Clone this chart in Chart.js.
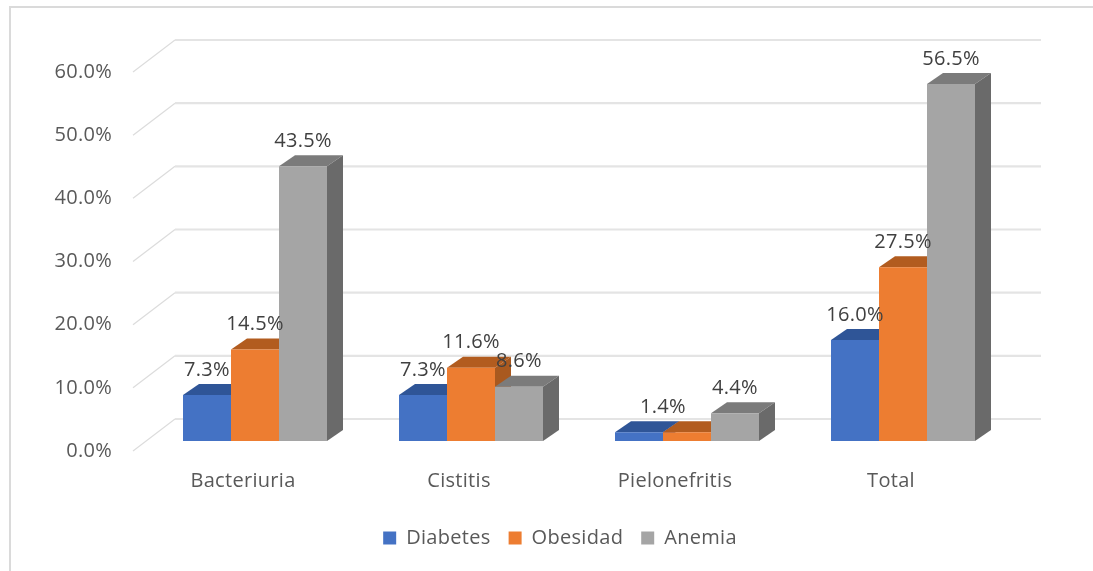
<!DOCTYPE html>
<html><head><meta charset="utf-8">
<style>html,body{margin:0;padding:0;background:#fff}#w{width:1093px;height:571px;position:relative}canvas{display:block;filter:blur(0.7px)}</style>
<script src="https://cdn.jsdelivr.net/npm/chart.js@4"></script></head>
<body><div id="w"><canvas id="c" width="1093" height="571"></canvas></div>
<script>
const categories=['Bacteriuria','Cistitis','Pielonefritis','Total'];
const diabetes=[7.3,7.3,1.4,16.0];
const obesidad=[14.5,11.6,1.4,27.5];
const anemia=[43.5,8.6,4.4,56.5];
const FONT='"Open Sans"';
const FS=20;
const styles=[
 {front:'#4472C4',top:'#2F5597',side:'#2F5597'},
 {front:'#ED7D31',top:'#B25C1F',side:'#A9591F'},
 {front:'#A5A5A5',top:'#7B7B7B',side:'#6A6A6A'}];
const DX=16,DY=11;
const threeD={id:'threeD',
 beforeUpdate(ch){ch.ctx.letterSpacing='0.3px';},
 afterLayout(ch){ch.legend.left+=37;ch.legend.right+=37;},
 beforeDraw(ch){const c=ch.ctx;c.save();c.strokeStyle='#DADADA';c.lineWidth=2;c.beginPath();c.moveTo(10,ch.height);c.lineTo(10,7);c.lineTo(ch.width,7);c.stroke();c.restore();},
 beforeDatasetsDraw(ch){
  const c=ch.ctx,y=ch.scales.y,a=ch.chartArea;c.save();
  y.ticks.forEach(t=>{const p=y.getPixelForValue(t.value);
   c.strokeStyle='#DCDCDC';c.lineWidth=1.2;c.beginPath();c.moveTo(a.left-14,p+10);c.lineTo(a.left+28,p-22);c.stroke();
   c.strokeStyle='#E4E4E4';c.lineWidth=2.2;c.beginPath();c.moveTo(a.left+28,p-22);c.lineTo(a.right+30,p-22);c.stroke();});
  categories.forEach((_,i)=>{ch.data.datasets.forEach((d,k)=>{
   const b=ch.getDatasetMeta(k).data[i],l=b.x-b.width/2,r=b.x+b.width/2,s=styles[k];
   c.fillStyle=s.top;c.beginPath();c.moveTo(l,b.y);c.lineTo(l+DX,b.y-DY);c.lineTo(r+DX,b.y-DY);c.lineTo(r,b.y);c.closePath();c.fill();
   c.fillStyle=s.side;c.beginPath();c.moveTo(r,b.y);c.lineTo(r+DX,b.y-DY);c.lineTo(r+DX,b.base-DY);c.lineTo(r,b.base);c.closePath();c.fill();
  });});
  c.restore();},
 afterDatasetsDraw(ch){
  const c=ch.ctx;c.save();c.font=FS+'px '+FONT;c.fillStyle='#404040';c.textAlign='center';c.textBaseline='middle';
  ch.data.datasets.forEach((d,k)=>{d.data.forEach((v,i)=>{
   const prev=k>0?ch.data.datasets[k-1].data[i]:null;
   if(prev===v)return;
   const next=k<2?ch.data.datasets[k+1].data[i]:null;
   const b=ch.getDatasetMeta(k).data[i];
   const x=next===v?b.x+b.width/2:b.x;
   c.fillText(v.toFixed(1)+'%',x,b.y-25);
  });});
  c.restore();}
};
new Chart(document.getElementById('c'),{type:'bar',
 data:{labels:categories,datasets:[
  {label:'Diabetes',data:diabetes,backgroundColor:styles[0].front},
  {label:'Obesidad',data:obesidad,backgroundColor:styles[1].front},
  {label:'Anemia',data:anemia,backgroundColor:styles[2].front}]},
 options:{responsive:false,animation:false,
  layout:{padding:{left:35,right:82,top:62,bottom:13}},
  datasets:{bar:{categoryPercentage:2/3,barPercentage:1,borderWidth:0}},
  plugins:{tooltip:{enabled:false},
   legend:{position:'bottom',labels:{boxWidth:13,boxHeight:13,padding:18,color:'#595959',font:{family:FONT,size:FS}}}},
  scales:{
   x:{afterFit(s){s.height=69},grid:{display:false},border:{display:false},
      ticks:{padding:20,labelOffset:-12,color:'#595959',font:{family:FONT,size:FS},maxRotation:0}},
   y:{min:0,max:60,afterFit(s){s.width=112},grid:{display:false,drawTicks:false},border:{display:false},
      ticks:{stepSize:10,padding:35,labelOffset:10,color:'#595959',font:{family:FONT,size:FS},callback:v=>v.toFixed(1)+'%'}}}
 },plugins:[threeD]});
</script></body></html>
